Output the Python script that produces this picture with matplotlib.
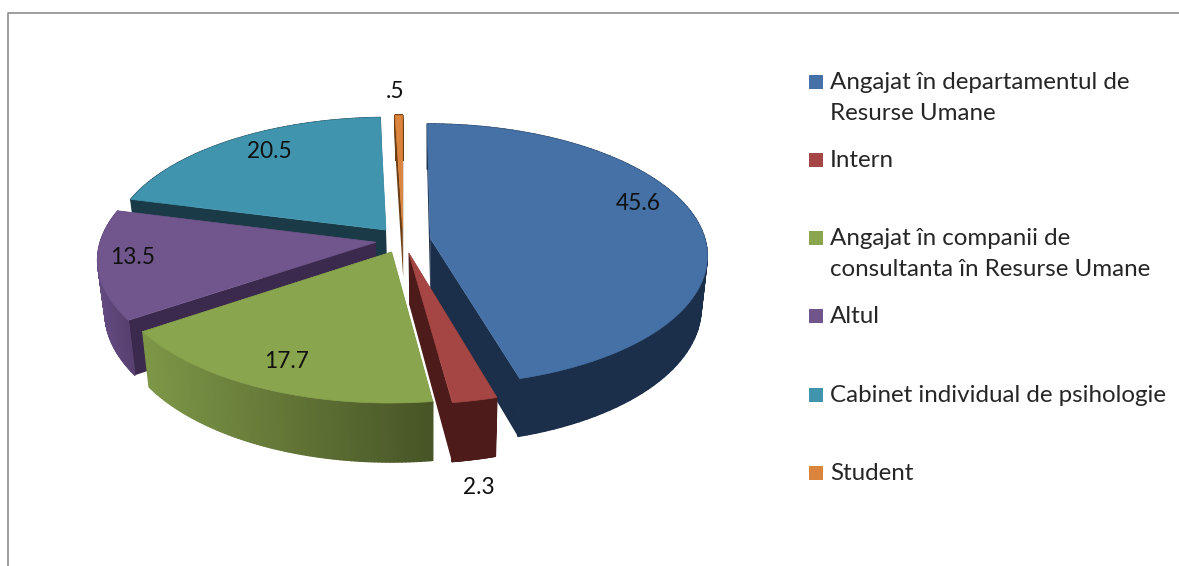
import numpy as np
import matplotlib
matplotlib.use("Agg")
from matplotlib import pyplot as plt
from matplotlib.collections import PolyCollection
from matplotlib.colors import to_rgb

labels = ["Angajat în departamentul de\nResurse Umane", "Intern",
          "Angajat în companii de\nconsultanta în Resurse Umane", "Altul",
          "Cabinet individual de psihologie", "Student"]
values = [45.6, 2.3, 17.7, 13.5, 20.5, 0.5]
value_text = ["45.6", "2.3", "17.7", "13.5", "20.5", ".5"]

top_colors = ["#4571a6", "#a64644", "#89a54e", "#70568d", "#4094ae", "#db843d"]
wall_left = ["#1b2f4a", "#4d1c1a", "#7d9747", "#644b81", "#193a46", "#6b3d12"]
wall_right = ["#1b2f4a", "#4d1c1a", "#475426", "#574070", "#193a46", "#6b3d12"]
cut_colors = ["#1b2f4a", "#4d1c1a", "#475426", "#3b2a4d", "#193a46", "#6b3d12"]

# perspective of the pie
cx, cy, a, b, k, depth = 403, 240, 275, 129, 0.125, 51
vanish_x, shrink = 430, 0.022

def project(x, y, down=0.0):
    w = 1 / (1 + k * y)
    sx = cx + x * a * w
    sx = vanish_x + (sx - vanish_x) * (1 - shrink * down)
    return np.column_stack([sx, cy - y * b * w + down * depth * w])

plt.rcParams["font.family"] = ["Lato", "DejaVu Sans"]
fig = plt.figure(figsize=(11.79, 5.66), dpi=100)

# hidden pie only gives the wedge geometry
tmp = fig.add_axes([0, 0, 0.01, 0.01])
wedges, _ = tmp.pie(values, explode=[0.1] * 6, startangle=90, counterclock=False, radius=1)
tmp.set_visible(False)

ax = fig.add_axes([0, 0, 1, 1])
ax.set_xlim(0, 1179)
ax.set_ylim(566, 0)
ax.axis("off")

# chart frame, the right edge is cut off
ax.plot([8, 8, 1179], [566, 13, 13], color="#8c8c8c", lw=1.2)

# back slices first
for i in [5, 4, 3, 0, 2, 1]:
    wd = wedges[i]
    ox, oy = wd.center
    t = np.radians(np.linspace(wd.theta1, wd.theta2, 90))
    rx = ox + np.cos(t) * wd.r
    ry = oy + np.sin(t) * wd.r

    # cut faces
    for ex, ey in [(rx[0], ry[0]), (rx[-1], ry[-1])]:
        lx, ly = np.array([ox, ex]), np.array([oy, ey])
        face = np.vstack([project(lx, ly), project(lx, ly, 1)[::-1]])
        ax.fill(face[:, 0], face[:, 1], color=cut_colors[i], lw=0)

    # rim, shaded from left to right
    up, lo = project(rx, ry), project(rx, ry, 1)
    xs = up[:, 0]
    span = max(xs.max() - xs.min(), 1)
    c0, c1 = np.array(to_rgb(wall_left[i])), np.array(to_rgb(wall_right[i]))
    ax.fill(np.r_[up[:, 0], lo[::-1, 0]], np.r_[up[:, 1], lo[::-1, 1]], color=(c0 + c1) / 2, lw=0)
    quads, cols = [], []
    for j in range(len(t) - 1):
        quads.append([up[j], up[j + 1], lo[j + 1], lo[j]])
        f = (xs[j] - xs.min()) / span
        cols.append(c0 + (c1 - c0) * f)
    ax.add_collection(PolyCollection(quads, facecolors=cols, edgecolors=cols, lw=1))

    # top face
    top = project(np.r_[ox, rx], np.r_[oy, ry])
    ax.fill(top[:, 0], top[:, 1], color=top_colors[i], lw=0.5, ec=top_colors[i])

# value labels
label_xy = [(638, 204), (479, 488), (287, 361), (133, 257), (269, 152), (395, 92)]
for s, (x, y) in zip(value_text, label_xy):
    ax.text(x, y, s, fontsize=16.3, color="#111111", ha="center", va="center")

# legend
legend_y = [82, 160, 238, 316, 395, 473]
for i, y in enumerate(legend_y):
    ax.scatter([816], [y], marker="s", s=100, color=top_colors[i], lw=0)
    ax.text(830, y - 10, labels[i], fontsize=17.4, color="#262626", va="top", linespacing=1.58)

fig.savefig("out.png", dpi=100)
